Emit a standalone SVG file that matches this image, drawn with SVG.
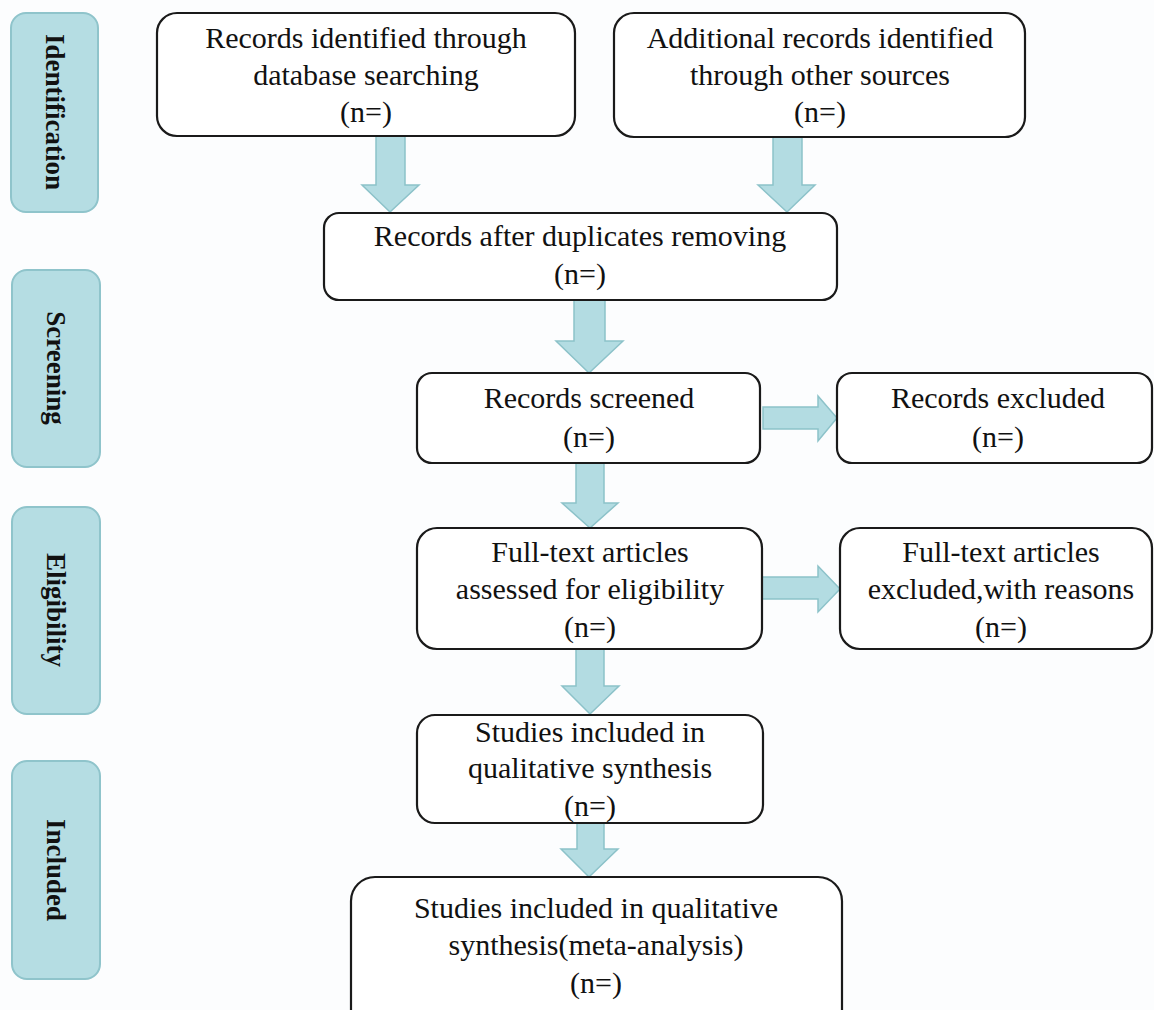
<svg xmlns="http://www.w3.org/2000/svg" width="1154" height="1010" viewBox="0 0 1154 1010">
<style>
.bg{fill:#fcfdfe}
.side{fill:#b5dde3;stroke:#8fc4cb;stroke-width:2}
.sidet{font-family:"Liberation Serif","Times New Roman",serif;font-weight:bold;font-size:27px;fill:#111;text-anchor:middle}
.box{fill:#ffffff;stroke:#1a1a1a;stroke-width:2.2}
.t{font-family:"Liberation Serif","Times New Roman",serif;font-size:30px;fill:#111;text-anchor:middle}
.arr{fill:#b3dce2;stroke:#8cc2c9;stroke-width:1.5;stroke-linejoin:miter}
</style>
<rect class="bg" x="0" y="0" width="1154" height="1010"/>

<g id="phase-identification">
<rect class="side" x="11" y="13" width="87" height="199" rx="15"/>
<text class="sidet" transform="translate(55,112) rotate(90)" x="0" y="9">Identification</text>
</g>
<g id="phase-screening">
<rect class="side" x="12" y="270" width="88" height="197" rx="15"/>
<text class="sidet" transform="translate(56,368) rotate(90)" x="0" y="9">Screening</text>
</g>
<g id="phase-eligibility">
<rect class="side" x="12" y="507" width="88" height="207" rx="15"/>
<text class="sidet" transform="translate(56,610) rotate(90)" x="0" y="9">Eligibility</text>
</g>
<g id="phase-included">
<rect class="side" x="12" y="761" width="88" height="218" rx="15"/>
<text class="sidet" transform="translate(56,870) rotate(90)" x="0" y="9">Included</text>
</g>

<g id="connectors">
<path class="arr" d="M376,136 L405,136 L405,185 L419,185 L390,212 L362,185 L376,185 Z"/>
<path class="arr" d="M773,137 L802,137 L802,185 L815,185 L787,212 L758,185 L773,185 Z"/>
<path class="arr" d="M574,300 L605,300 L605,341 L623,341 L589,373 L556,341 L574,341 Z"/>
<path class="arr" d="M763,407 L818,407 L818,396 L837,418 L818,441 L818,429 L763,429 Z"/>
<path class="arr" d="M576,463 L604,463 L604,503 L618,503 L590,528 L562,503 L576,503 Z"/>
<path class="arr" d="M762,577 L818,577 L818,566 L840,589 L818,612 L818,599 L762,599 Z"/>
<path class="arr" d="M576,649 L604,649 L604,686 L619,686 L590,714 L562,686 L576,686 Z"/>
<path class="arr" d="M577,823 L604,823 L604,849 L618,849 L589,877 L561,849 L577,849 Z"/>
</g>

<g id="node-db-records">
<rect class="box" x="157" y="13" width="418" height="123" rx="20"/>
<text class="t" x="366" y="48">Records identified through</text>
<text class="t" x="366" y="85">database searching</text>
<text class="t" x="366" y="122">(n=)</text>
</g>
<g id="node-other-records">
<rect class="box" x="614" y="13" width="411" height="124" rx="20"/>
<text class="t" x="820" y="48">Additional records identified</text>
<text class="t" x="820" y="85">through other sources</text>
<text class="t" x="820" y="122">(n=)</text>
</g>
<g id="node-dedup">
<rect class="box" x="324" y="213" width="513" height="87" rx="15"/>
<text class="t" x="580" y="246">Records after duplicates removing</text>
<text class="t" x="580" y="284">(n=)</text>
</g>
<g id="node-screened">
<rect class="box" x="417" y="373" width="343" height="90" rx="15"/>
<text class="t" x="589" y="408">Records screened</text>
<text class="t" x="589" y="447">(n=)</text>
</g>
<g id="node-excluded">
<rect class="box" x="837" y="373" width="315" height="90" rx="15"/>
<text class="t" x="998" y="408">Records excluded</text>
<text class="t" x="998" y="447">(n=)</text>
</g>
<g id="node-fulltext">
<rect class="box" x="417" y="528" width="345" height="121" rx="20"/>
<text class="t" x="590" y="562">Full-text articles</text>
<text class="t" x="590" y="599">assessed for eligibility</text>
<text class="t" x="590" y="637">(n=)</text>
</g>
<g id="node-fulltext-excluded">
<rect class="box" x="840" y="528" width="312" height="121" rx="20"/>
<text class="t" x="1001" y="562">Full-text articles</text>
<text class="t" x="1001" y="599">excluded,with reasons</text>
<text class="t" x="1001" y="637">(n=)</text>
</g>
<g id="node-qualitative">
<rect class="box" x="417" y="715" width="346" height="108" rx="18"/>
<text class="t" x="590" y="742">Studies included in</text>
<text class="t" x="590" y="778">qualitative synthesis</text>
<text class="t" x="590" y="816">(n=)</text>
</g>
<g id="node-meta">
<rect class="box" x="351" y="877" width="491" height="160" rx="24"/>
<text class="t" x="596" y="918">Studies included in qualitative</text>
<text class="t" x="596" y="955">synthesis(meta-analysis)</text>
<text class="t" x="596" y="993">(n=)</text>
</g>
</svg>
